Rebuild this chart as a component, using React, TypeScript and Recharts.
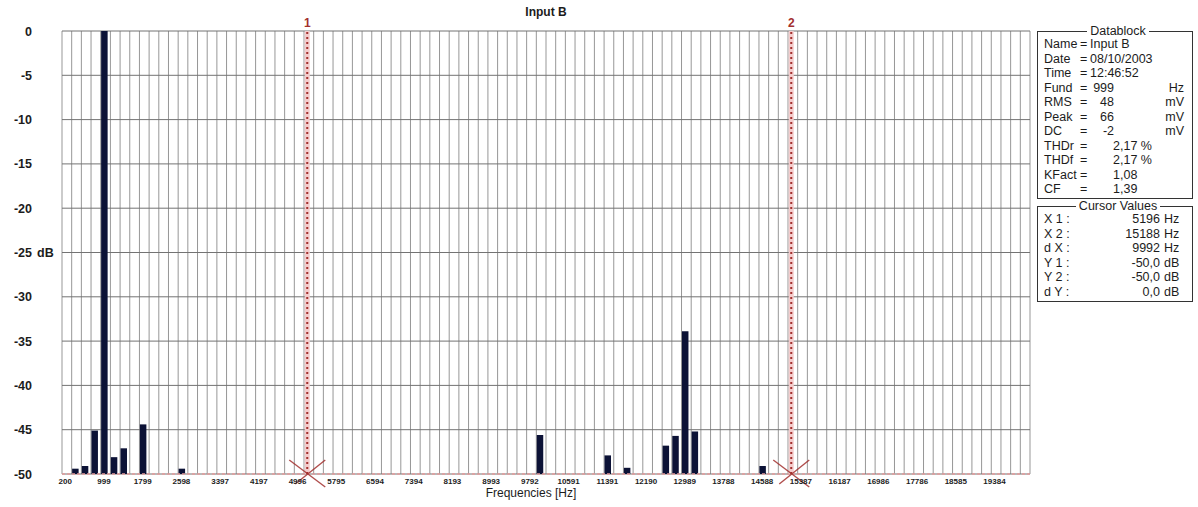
import React from "react";
import {
  BarChart,
  Bar,
  XAxis,
  YAxis,
  CartesianGrid,
  ReferenceLine,
  ReferenceDot,
  Label,
} from "recharts";

// FFT bin width (Hz) and number of bins on screen
const BIN_HZ = 199.84;
const BIN_COUNT = 100;
const EDGE_SHIFT = 0.335; // grid line sits on the left edge of each bar

// spectral lines above the -50 dB floor
const PEAK_HZ = [400, 600, 799, 999, 1199, 1399, 1799, 2598, 9992, 11391, 11791, 12590, 12790, 12990, 13189, 14588];
const PEAK_DB = [-49.4, -49.1, -45.1, 0, -48.1, -47.1, -44.4, -49.4, -45.6, -47.9, -49.3, -46.8, -45.7, -33.9, -45.2, -49.1];

const X_TICKS = [
  200, 999, 1799, 2598, 3397, 4197, 4996, 5795, 6594, 7394, 8193, 8993, 9792,
  10591, 11391, 12190, 12989, 13788, 14588, 15387, 16187, 16986, 17786, 18585, 19384,
];
const Y_TICKS = [0, -5, -10, -15, -20, -25, -30, -35, -40, -45, -50];
const FLOOR_DB = -50;

const CURSOR_IDS = ["1", "2"];
const CURSOR_HZ = [5196, 15188];
const CURSOR_DB = [-50, -50];

const DATABLOCK = [
  ["Name", "Input B", ""],
  ["Date", "08/10/2003", ""],
  ["Time", "12:46:52", ""],
  ["Fund", "999", "Hz"],
  ["RMS", "48", "mV"],
  ["Peak", "66", "mV"],
  ["DC", "-2", "mV"],
  ["THDr", "2,17 %", ""],
  ["THDf", "2,17 %", ""],
  ["KFact", "1,08", ""],
  ["CF", "1,39", ""],
];

const CURSOR_VALUES = [
  ["X 1 :", "5196", "Hz"],
  ["X 2 :", "15188", "Hz"],
  ["d X :", "9992", "Hz"],
  ["Y 1 :", "-50,0", "dB"],
  ["Y 2 :", "-50,0", "dB"],
  ["d Y :", "0,0", "dB"],
];

const data = PEAK_HZ.map((hz, i) => ({ hz, db: PEAK_DB[i] }));
const X_MIN = BIN_HZ * (1 - EDGE_SHIFT);
const X_MAX = BIN_HZ * (BIN_COUNT + 1 - EDGE_SHIFT);
const GRID_EDGES = Array.from({ length: BIN_COUNT + 1 }, (_, i) => BIN_HZ * (i + 1 - EDGE_SHIFT));

const FONT = "'Liberation Sans', Arial, sans-serif";
const INK = "#1c1c1c";
const CURSOR_RED = "#a3302e";
const ROW = 14.5;

function YTick({ x, y, payload }: any) {
  return (
    <g>
      <text x={x} y={y} dy={4.5} textAnchor="end" fontFamily={FONT} fontSize={12.5} fontWeight="bold" fill={INK}>
        {payload.value}
      </text>
      {payload.value === -25 && (
        <text x={x + 5} y={y} dy={4.5} textAnchor="start" fontFamily={FONT} fontSize={12.5} fontWeight="bold" fill={INK}>
          dB
        </text>
      )}
    </g>
  );
}

function CursorCross({ cx, cy }: any) {
  if (cx == null || cy == null) return <g />;
  return (
    <g stroke={CURSOR_RED} strokeWidth={1.4} opacity={0.85}>
      <line x1={cx - 18} y1={cy - 14} x2={cx + 18} y2={cy + 13} />
      <line x1={cx + 18} y1={cy - 14} x2={cx - 12} y2={cy + 10} />
    </g>
  );
}

function Box({ title, top, height, children }: any) {
  return (
    <fieldset
      style={{
        position: "absolute",
        left: 1037,
        top,
        width: 156,
        height,
        margin: 0,
        padding: "0 0 0 6px",
        border: "1px solid #333",
        boxSizing: "border-box",
        fontFamily: FONT,
        fontSize: 12.5,
        color: INK,
      }}
    >
      <legend style={{ margin: "0 auto", padding: "0 3px", fontSize: 12.5, lineHeight: "12px" }}>{title}</legend>
      {children}
    </fieldset>
  );
}

export default function App() {
  return (
    <div style={{ position: "relative", width: 1198, height: 507, background: "#fff", overflow: "hidden" }}>
      <style>{`body{margin:0}`}</style>
      <div
        style={{
          position: "absolute",
          left: 446,
          width: 200,
          top: 5,
          textAlign: "center",
          fontFamily: FONT,
          fontSize: 12,
          fontWeight: "bold",
          color: INK,
        }}
      >
        Input B
      </div>

      <BarChart width={1198} height={507} data={data} margin={{ top: 31, right: 168, bottom: 0, left: 0 }}>
        <CartesianGrid horizontal={false} verticalValues={GRID_EDGES} stroke="#979797" strokeWidth={1} />
        <CartesianGrid vertical={false} stroke="#737373" strokeWidth={1} />
        <XAxis
          type="number"
          dataKey="hz"
          domain={[X_MIN, X_MAX]}
          ticks={X_TICKS}
          interval={0}
          height={33}
          tickSize={0}
          tickMargin={4}
          axisLine={false}
          tick={{ fontFamily: FONT, fontSize: 8, fontWeight: "bold", fill: INK }}
        >
          <Label
            value="Frequencies [Hz]"
            position="insideBottom"
            offset={10}
            dx={-15}
            style={{ fontFamily: FONT, fontSize: 12, fill: INK }}
          />
        </XAxis>
        <YAxis
          type="number"
          domain={[FLOOR_DB, 0]}
          ticks={Y_TICKS}
          interval={0}
          width={62}
          tickSize={0}
          tickMargin={30}
          axisLine={false}
          tick={<YTick />}
        />
        <Bar dataKey={(d: any) => [FLOOR_DB, d.db]} fill="#0c1236" barSize={6.5} isAnimationActive={false} />
        <ReferenceLine y={FLOOR_DB} stroke="#e39c9c" strokeWidth={1.5} strokeDasharray="3 2" />
        {CURSOR_HZ.map((hz, i) => (
          <ReferenceLine key={"h" + i} x={hz} stroke="#f4cccc" strokeWidth={5} />
        ))}
        {CURSOR_HZ.map((hz, i) => (
          <ReferenceLine
            key={"c" + i}
            x={hz}
            stroke={CURSOR_RED}
            strokeWidth={2}
            strokeDasharray="2 3"
            label={{
              value: CURSOR_IDS[i],
              position: "top",
              offset: 4,
              fill: CURSOR_RED,
              fontSize: 12,
              fontWeight: "bold",
              fontFamily: FONT,
            }}
          />
        ))}
        {CURSOR_HZ.map((hz, i) => (
          <ReferenceDot key={"x" + i} x={hz} y={CURSOR_DB[i]} r={1} shape={<CursorCross />} />
        ))}
      </BarChart>

      <Box title="Datablock" top={25} height={ROW * 11 + 14}>
        {DATABLOCK.map(([k, v, u]) => {
          const plain = !u && /^[A-Za-z0-9]/.test(v) && !v.includes(",");
          return (
            <div key={k} style={{ display: "flex", height: ROW, lineHeight: ROW + "px", whiteSpace: "nowrap" }}>
              <span style={{ width: 36 }}>{k}</span>
              <span style={{ width: 10 }}>=</span>
              {u ? (
                <>
                  <span style={{ width: 24, textAlign: "right" }}>{v}</span>
                  <span style={{ width: 70, textAlign: "right" }}>{u}</span>
                </>
              ) : (
                <span style={{ paddingLeft: plain ? 0 : 23 }}>{v}</span>
              )}
            </div>
          );
        })}
      </Box>
      <Box title="Cursor Values" top={200} height={ROW * 6 + 15}>
        {CURSOR_VALUES.map(([k, v, u]) => (
          <div key={k} style={{ display: "flex", height: ROW, lineHeight: ROW + "px", whiteSpace: "nowrap" }}>
            <span style={{ width: 34 }}>{k}</span>
            <span style={{ width: 82, textAlign: "right" }}>{v}</span>
            <span style={{ width: 24, paddingLeft: 4 }}>{u}</span>
          </div>
        ))}
      </Box>
    </div>
  );
}
